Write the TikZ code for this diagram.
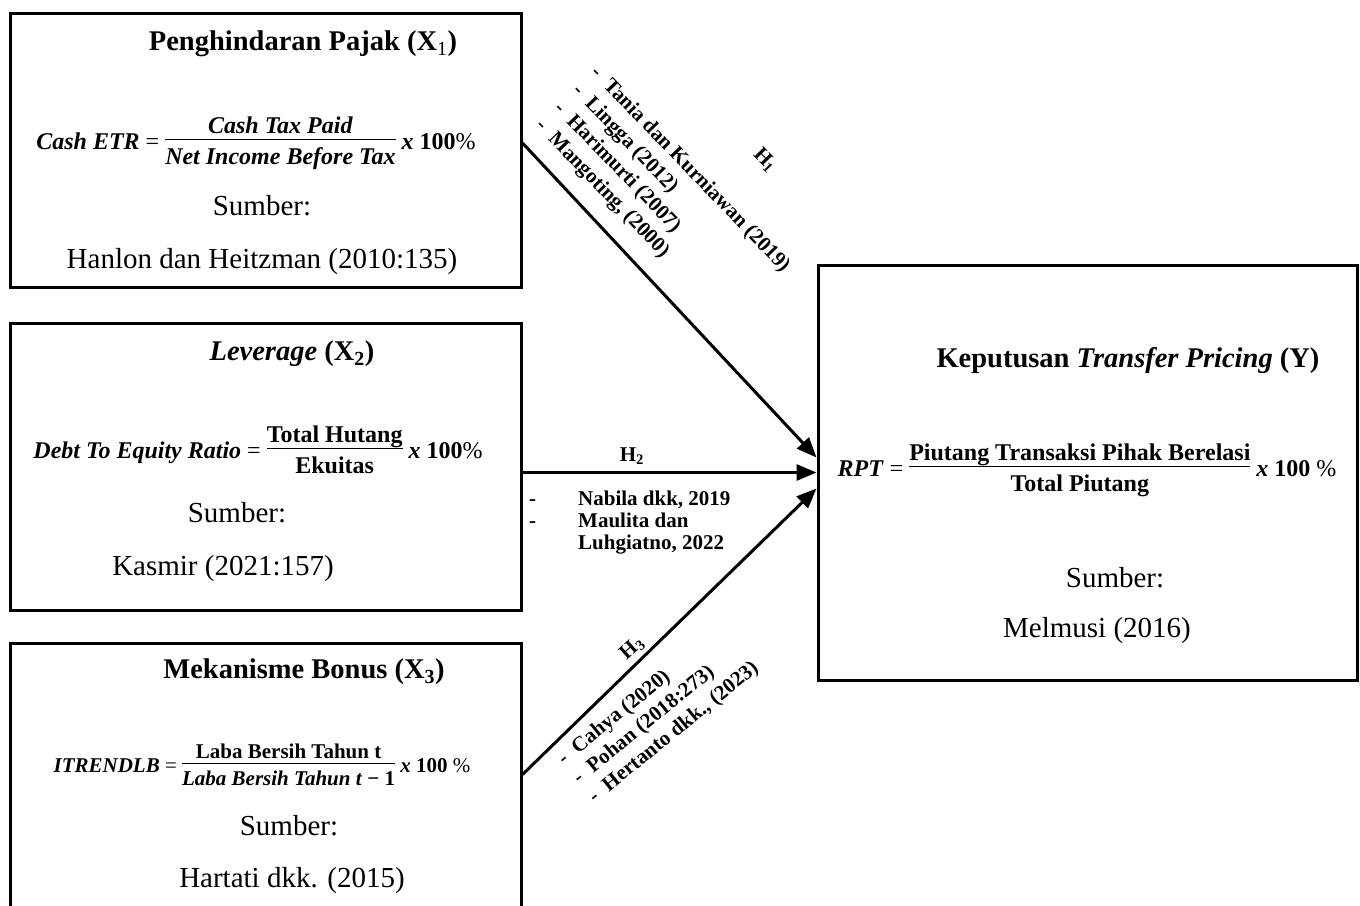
\documentclass[tikz,border=0pt]{standalone}
\usepackage{fontspec}
\setmainfont{Liberation Serif}
\usetikzlibrary{arrows.meta,calc}
\setlength{\arrayrulewidth}{1.4pt}
\newcommand{\myfr}[2]{\begin{tabular}[c]{@{}c@{}}#1\\[-3pt]\hline\rule{0pt}{1.0em}#2\end{tabular}}
\newcommand{\bi}[1]{\textbf{\textit{#1}}}
\begin{document}
\begin{tikzpicture}[x=1pt,y=-1pt,
  box/.style={draw,line width=3pt,inner sep=0pt},
  ttl/.style={font=\fontsize{28.5}{32}\selectfont\bfseries,inner sep=0pt},
  src/.style={font=\fontsize{29}{33}\selectfont,inner sep=0pt},
  fml/.style={font=\fontsize{24}{28}\selectfont,inner sep=0pt},
  fmls/.style={font=\fontsize{21}{25}\selectfont,inner sep=0pt},
  lbl/.style={font=\fontsize{21}{24}\selectfont\bfseries,inner sep=0pt},
  arr/.style={line width=3pt,-{Triangle[length=20pt,width=16pt]}}]
\useasboundingbox (0,0) rectangle (1360,905);
\fill[white] (0,0) rectangle (1360,905);
\clip (0,0) rectangle (1360,905);

% boxes
\node[box,minimum width=511pt,minimum height=274pt] (b1) at (265.5,150) {};
\node[box,minimum width=511pt,minimum height=287pt] (b2) at (265.5,466.5) {};
\node[box,minimum width=511pt,minimum height=267pt] (b3) at (265.5,776.5) {};
\node[box,minimum width=539pt,minimum height=415pt] (by) at (1087.5,472.5) {};

% box 1
\node[ttl] (t1) at (303,44) {Penghindaran Pajak (X\textsubscript{\mdseries 1})};
\node[fml] (f1) at (256,143) {\bi{Cash ETR} = \myfr{\bi{Cash Tax Paid}}{\bi{Net Income Before Tax}} \bi{x} \textbf{100}\%};
\node[src] (s1) at (262,206) {Sumber:};
\node[src] (r1) at (262,262) {Hanlon dan Heitzman (2010:135)};

% box 2
\node[ttl] (t2) at (292,354) {\textit{Leverage} (X\textsubscript{2})};
\node[fml] (f2) at (258,452) {\bi{Debt To Equity Ratio} = \myfr{\textbf{Total Hutang}}{\textbf{Ekuitas}} \bi{x} \textbf{100}\%};
\node[src] (s2) at (237,513) {Sumber:};
\node[src] (r2) at (223,569) {Kasmir (2021:157)};

% box 3
\node[ttl] (t3) at (304,672) {Mekanisme Bonus (X\textsubscript{3})};
\node[fmls] (f3) at (262,767) {\bi{ITRENDLB} = \myfr{\textbf{Laba Bersih Tahun t}}{\bi{Laba Bersih Tahun t} \textbf{− 1}} \bi{x} \textbf{100} \%};
\node[src] (s3) at (289,826) {Sumber:};
\node[src] (r3) at (292,881) {Hartati dkk. (2015)};

% box Y
\node[ttl] (ty) at (1128,360) {Keputusan \textit{Transfer Pricing} (Y)};
\node[fml] (fy) at (1087,470) {\bi{RPT} = \myfr{\textbf{Piutang Transaksi Pihak Berelasi}}{\textbf{Total Piutang}} \bi{x} \textbf{100} \%};
\node[src] (sy) at (1115,578) {Sumber:};
\node[src] (ry) at (1097,631) {Melmusi (2016)};

% arrows
\draw[arr] ($(b1.east)+(0,-7)$) -- ($(by.west)+(0,-15)$);
\draw[arr] (b2.east |- by.west) -- (by.west);
\draw[arr] ($(b3.east)+(0,-2)$) -- ($(by.west)+(0,16)$);

% H1 labels
\node[lbl,rotate=-46] (h1) at (765,160) {H\textsubscript{1}};
\node[lbl,rotate=-46,anchor=north west] (l1) at (603,61) {\renewcommand{\arraystretch}{1}\fontsize{21}{25.5}\selectfont
\begin{tabular}{@{}l@{\hspace{11pt}}l@{}}
-&Tania dan Kurniawan (2019)\\
-&Lingga (2012)\\
-&Harimurti (2007)\\
-&Mangoting, (2000)
\end{tabular}};

% H2 labels
\node[lbl] (h2) at (632,456) {H\textsubscript{2}};
\node[lbl,anchor=north west] (l2) at (529,490) {\renewcommand{\arraystretch}{1}\fontsize{21}{22}\selectfont
\begin{tabular}{@{}p{49pt}@{}l@{}}
-&Nabila dkk, 2019\\
-&Maulita dan\\
&Luhgiatno, 2022
\end{tabular}};

% H3 labels
\node[lbl,rotate=42] (h3) at (632,648) {H\textsubscript{3}};
\node[lbl,rotate=39,anchor=north west] (l3) at (553,752) {\renewcommand{\arraystretch}{1}\fontsize{21}{24.5}\selectfont
\begin{tabular}{@{}l@{\hspace{11pt}}l@{}}
-&Cahya (2020)\\
-&Pohan (2018:273)\\
-&Hertanto dkk., (2023)
\end{tabular}};
\end{tikzpicture}
\end{document}
